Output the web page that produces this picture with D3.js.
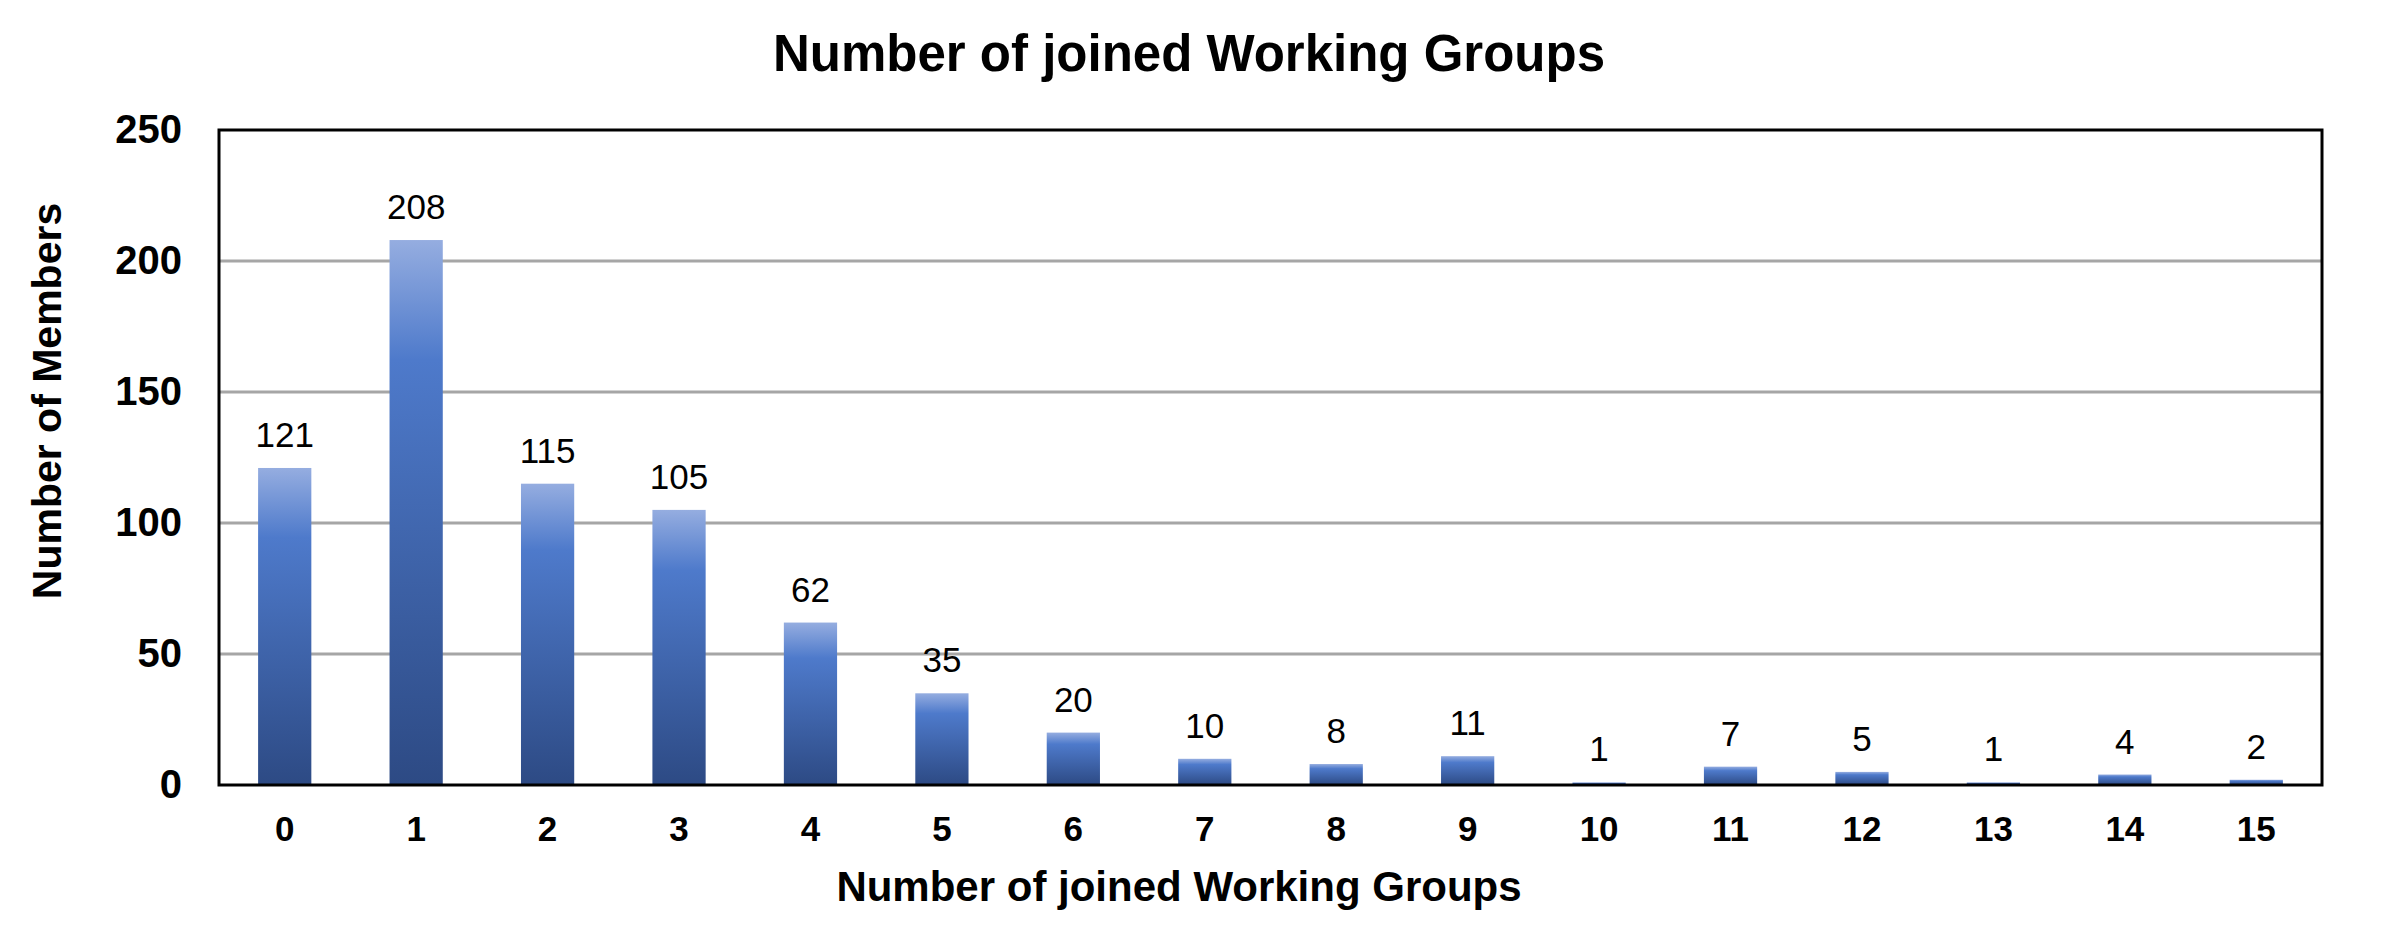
<!DOCTYPE html>
<html>
<head>
<meta charset="utf-8">
<script src="https://cdn.jsdelivr.net/npm/d3@7"></script>
<style>
	html, body { margin: 0; padding: 0; background: #fff; }
	svg { display: block; font-family: "Liberation Sans", Arial, sans-serif; }
</style>
</head>
<body>
<div id="chart"></div>
<script>
const groups = ["0", "1", "2", "3", "4", "5", "6", "7", "8", "9", "10", "11", "12", "13", "14", "15"];
const members = [121, 208, 115, 105, 62, 35, 20, 10, 8, 11, 1, 7, 5, 1, 4, 2];
const yTicks = [0, 50, 100, 150, 200, 250];

const chartTitle = "Number of joined Working Groups";
const xTitle = "Number of joined Working Groups";
const yTitle = "Number of Members";

const width = 2382;
const height = 951;
const margin = { top: 130, right: 60, bottom: 166, left: 219 };

const svg = d3
	.select("#chart")
	.append("svg")
	.attr("width", width)
	.attr("height", height)
	.attr("viewBox", [0, 0, width, height]);

// bar gradient, light on top, dark at the base
const grad = svg
	.append("defs")
	.append("linearGradient")
	.attr("id", "barFill")
	.attr("x1", 0)
	.attr("y1", 0)
	.attr("x2", 0)
	.attr("y2", 1);
grad.append("stop").attr("offset", "0%").attr("stop-color", "#95ade0");
grad.append("stop").attr("offset", "22%").attr("stop-color", "#4e7acb");
grad.append("stop").attr("offset", "100%").attr("stop-color", "#2d4a84");

const xScale = d3
	.scaleBand()
	.domain(groups)
	.range([margin.left, width - margin.right])
	.paddingInner(0.595)
	.paddingOuter(0.2975);

const yScale = d3
	.scaleLinear()
	.domain([0, 250])
	.range([height - margin.bottom, margin.top]);

// gridlines
svg
	.append("g")
	.attr("stroke", "#a6a6a6")
	.attr("stroke-width", 3)
	.selectAll("line")
	.data(yTicks.filter((d) => d > 0 && d < 250))
	.enter()
	.append("line")
	.attr("x1", margin.left)
	.attr("x2", width - margin.right)
	.attr("y1", (d) => yScale(d))
	.attr("y2", (d) => yScale(d));

// bars
svg
	.append("g")
	.attr("fill", "url(#barFill)")
	.selectAll("rect")
	.data(members)
	.enter()
	.append("rect")
	.attr("x", (d, i) => xScale(groups[i]))
	.attr("y", (d) => yScale(d))
	.attr("width", xScale.bandwidth())
	.attr("height", (d) => yScale(0) - yScale(d));

// value labels
svg
	.append("g")
	.attr("font-size", 35)
	.attr("text-anchor", "middle")
	.attr("fill", "#000")
	.selectAll("text")
	.data(members)
	.enter()
	.append("text")
	.attr("x", (d, i) => xScale(groups[i]) + xScale.bandwidth() / 2)
	.attr("y", (d) => yScale(d) - 21)
	.text((d) => d);

// plot frame
svg
	.append("rect")
	.attr("x", margin.left)
	.attr("y", margin.top)
	.attr("width", width - margin.right - margin.left)
	.attr("height", height - margin.bottom - margin.top)
	.attr("fill", "none")
	.attr("stroke", "#000")
	.attr("stroke-width", 3);

const xAxis = (g) => {
	g.attr("transform", `translate(0,${height - margin.bottom})`).call(
		d3.axisBottom(xScale).tickSize(0).tickPadding(31)
	);
	g.select(".domain").remove();
	g.selectAll("text")
		.attr("font-size", 35)
		.attr("font-weight", "bold")
		.attr("fill", "#000");
};

const yAxis = (g) => {
	g.attr("transform", `translate(${margin.left},0)`).call(
		d3.axisLeft(yScale).tickValues(yTicks).tickSize(0).tickPadding(37)
	);
	g.select(".domain").remove();
	g.selectAll("text")
		.attr("font-size", 40)
		.attr("font-weight", "bold")
		.attr("fill", "#000");
};

svg.append("g").attr("font-family", null).call(xAxis);
svg.append("g").attr("font-family", null).call(yAxis);

// titles
svg
	.append("text")
	.attr("x", 1189)
	.attr("y", 71)
	.attr("text-anchor", "middle")
	.attr("font-size", 51)
	.attr("font-weight", "bold")
	.text(chartTitle);

svg
	.append("text")
	.attr("x", 1179)
	.attr("y", 901)
	.attr("text-anchor", "middle")
	.attr("font-size", 42)
	.attr("font-weight", "bold")
	.text(xTitle);

svg
	.append("text")
	.attr("transform", "translate(61,401) rotate(-90)")
	.attr("text-anchor", "middle")
	.attr("font-size", 41)
	.attr("font-weight", "bold")
	.text(yTitle);
</script>
</body>
</html>
